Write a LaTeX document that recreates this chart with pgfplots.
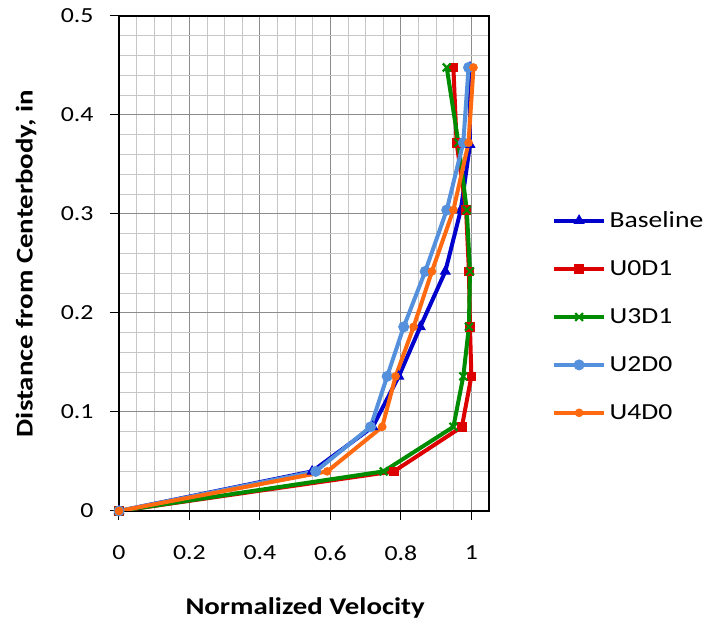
\documentclass[border=0pt]{standalone}
\usepackage{fontspec}
\setmainfont{Carlito}[FakeStretch=1.2]
\usepackage{pgfplots}
\pgfplotsset{compat=1.18}

\definecolor{cBase}{HTML}{0000CC}
\definecolor{cUzD}{HTML}{DD0000}
\definecolor{cUtD}{HTML}{008C00}
\definecolor{cUtwo}{HTML}{5590DC}
\definecolor{cUfour}{HTML}{FF6A10}

\begin{document}
\begin{tikzpicture}[x=1pt,y=1pt]
\useasboundingbox (0,0) rectangle (710,623);
\begin{axis}[
  at={(119pt,112pt)}, anchor=south west,
  scale only axis, width=370pt, height=495pt,
  xmin=0, xmax=1.05, ymin=0, ymax=0.5,
  xtick={0,0.2,0.4,0.6,0.8,1},
  xticklabels={0,0.2,0.4,0.6,0.8,1},
  ytick={0,0.1,0.2,0.3,0.4,0.5},
  yticklabels={0,0.1,0.2,0.3,0.4,0.5},
  minor x tick num=3, minor y tick num=4,
  grid=both,
  major grid style={draw=black!45, line width=1pt},
  minor grid style={draw=black!22, line width=1pt},
  axis line style={black, line width=1.2pt},
  tick align=outside, tick pos=left,
  major tick length=9pt, minor tick length=0pt,
  tick style={black, line width=1pt},
  /pgf/number format/assume math mode=true,
  ticklabel style={font=\fontsize{21.5}{26}\selectfont},
  xticklabel style={yshift=-22pt},
  yticklabel style={xshift=-13pt},
  xlabel={Normalized Velocity},
  ylabel={Distance from Centerbody, in},
  every axis x label/.style={at={(axis description cs:0.503,-0.195)}, anchor=center,
    font=\fontsize{24}{28}\selectfont\bfseries},
  every axis y label/.style={at={(axis description cs:-0.251,0.5)}, anchor=center, rotate=90,
    font=\fontsize{24}{28}\selectfont\bfseries},
  legend style={draw=none, fill=none, at={(axis description cs:1.17,0.393)}, anchor=west,
    font=\fontsize{23}{27}\selectfont, row sep=24.5pt, inner sep=0pt,
    nodes={inner sep=3.5pt}},
  legend cell align=left,
  legend image code/.code={\draw[mark repeat=2,mark phase=2,#1] plot coordinates {(0pt,0pt)(25pt,0pt)(50pt,0pt)};},
  every axis plot/.append style={line width=4pt},
]
% Baseline
\addplot[cBase, mark=triangle*, mark size=5.5pt, mark options={solid, fill=cBase, line width=1pt}] coordinates {
  (0,0) (0.548,0.04) (0.720,0.085) (0.794,0.136) (0.855,0.186)
  (0.926,0.242) (0.970,0.304) (0.996,0.370) (0.996,0.448)};
\addlegendentry{Baseline}
% U0D1
\addplot[cUzD, mark=square*, mark size=4.3pt, mark options={solid, fill=cUzD, line width=1pt}] coordinates {
  (0,0) (0.780,0.04) (0.973,0.085) (1.000,0.136) (0.996,0.186)
  (0.993,0.242) (0.985,0.304) (0.958,0.372) (0.949,0.448)};
\addlegendentry{U0D1}
% U3D1
\addplot[cUtD, mark=x, mark size=5.5pt, mark options={solid, line width=2.2pt}] coordinates {
  (0,0) (0.751,0.04) (0.949,0.085) (0.977,0.136) (0.993,0.186)
  (0.996,0.242) (0.987,0.304) (0.963,0.372) (0.930,0.448)};
\addlegendentry{U3D1}
% U2D0
\addplot[cUtwo, mark=*, mark size=5pt, mark options={solid, fill=cUtwo, line width=1pt}] coordinates {
  (0,0) (0.558,0.04) (0.714,0.085) (0.761,0.136) (0.808,0.186)
  (0.869,0.242) (0.930,0.304) (0.977,0.372) (0.992,0.448)};
\addlegendentry{U2D0}
% U4D0
\addplot[cUfour, mark=*, mark size=3.8pt, mark options={solid, fill=cUfour, line width=1pt}] coordinates {
  (0,0) (0.591,0.04) (0.747,0.085) (0.785,0.136) (0.836,0.186)
  (0.888,0.242) (0.949,0.304) (0.992,0.372) (1.006,0.448)};
\addlegendentry{U4D0}
\end{axis}
\end{tikzpicture}
\end{document}
